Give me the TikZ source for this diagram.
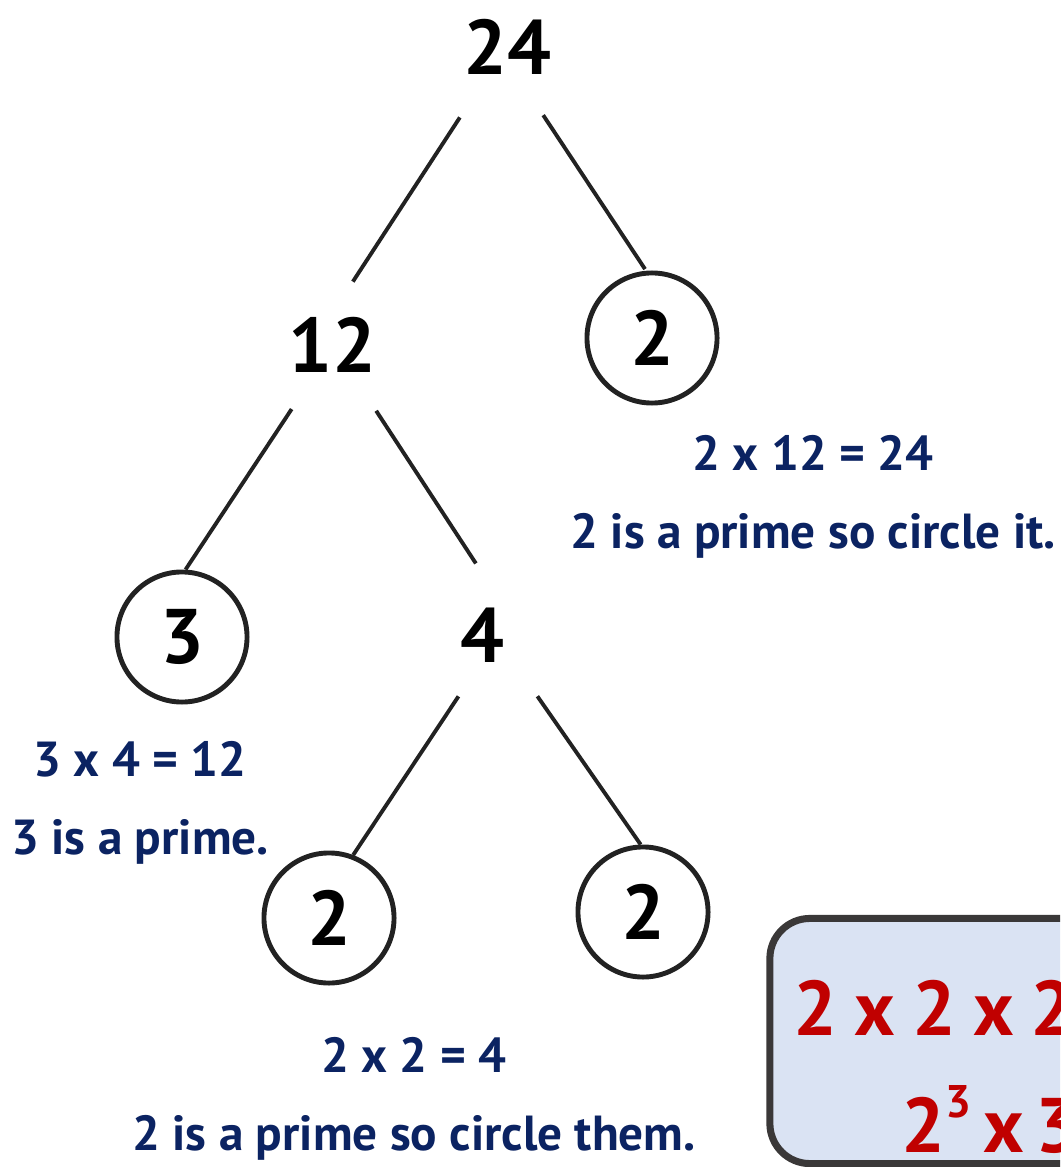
\documentclass[tikz,border=0pt]{standalone}
\usepackage{fontspec}
\setmainfont{PT Sans}
\definecolor{navy}{HTML}{0B2362}
\definecolor{redtxt}{HTML}{C00000}
\definecolor{boxfill}{HTML}{DAE3F3}
\definecolor{boxline}{HTML}{3A3838}
\definecolor{ink}{HTML}{222222}
\newcommand{\tms}{\hspace{0.22em}x\hspace{0.22em}}
\begin{document}
\begin{tikzpicture}[x=0.01cm,y=-0.01cm,
  tnode/.style={circle,minimum size=1.3cm,inner sep=0pt,font=\fontsize{22}{26}\selectfont\bfseries},
  pnode/.style={tnode,draw=ink,line width=1.4pt},
  edge/.style={draw=ink,line width=1.1pt},
  note/.style={text=navy,align=center,font=\fontsize{14}{22}\selectfont\bfseries},
  result/.style={text=redtxt,inner sep=0pt,font=\fontsize{22}{26}\selectfont\bfseries}]
\useasboundingbox (0,0) rectangle (1060,1167);
\clip (0,0) rectangle (1060,1167);
\node[tnode] (n24) at (507,47) {24};
\node[tnode] (n12) at (332,345) {12};
\node[pnode] (p2a) at (652,338) {2};
\node[pnode] (p3) at (182,637) {3};
\node[tnode] (n4) at (482,635) {4};
\node[pnode] (p2b) at (329,918) {2};
\node[pnode] (p2c) at (643,912) {2};
\draw[edge,shorten <=0.19cm,shorten >=0.01cm] (n24.236.7) -- (n12.72.4);
\draw[edge,shorten <=0.115cm,shorten >=0.02cm] (n24.297.2) -- (p2a.95.7);
\draw[edge,shorten <=0.10cm] (n12.238.6) -- (p3.87.4);
\draw[edge,shorten <=0.135cm,shorten >=0.07cm] (n12.304.1) -- (n4.92.4);
\draw[edge] (n4.249) -- (p2b.69.6);
\draw[edge,shorten <=0.17cm] (n4.314) -- (p2c.92.6);
\node[note] (t1) at (813,497) {2 x 12 = 24\\2 is a prime so circle it.};
\node[note] (t2) at (140,803) {3 x 4 = 12\\3 is a prime.};
\node[note] (t3) at (414,1099) {2 x 2 = 4\\2 is a prime so circle them.};
\node[draw=boxline,fill=boxfill,line width=2pt,rounded corners=0.4cm,minimum width=4.4cm,minimum height=2.45cm] (box) at (990,1041) {};
\node[result,anchor=base west] (r1) at (793,1035) {2\tms2\tms2\tms3};
\node[result,anchor=base west] (r2) at (901,1152) {2\raisebox{0.45em}{\fontsize{13}{15}\selectfont 3}\hspace{0.15em}x\hspace{0.15em}3};
\end{tikzpicture}
\end{document}
